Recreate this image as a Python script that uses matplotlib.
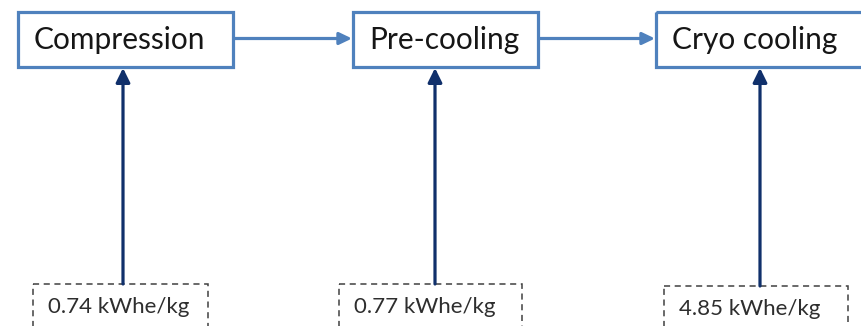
import matplotlib
matplotlib.use('Agg')
import matplotlib.pyplot as plt
from matplotlib.patches import Rectangle

# process stages and their specific energy demand
stages = ['Compression', 'Pre-cooling', 'Cryo cooling']
energy = [0.74, 0.77, 4.85]
unit = 'kWhe/kg'

# layout (pixel-like coordinates, y grows downwards)
box_left = [18, 353, 656]
box_right = [233, 538, 880]
box_top, box_bottom = 12, 67
feed_x = [123, 435, 760]
dash_left = [33, 339, 664]
dash_right = [208, 522, 848]
dash_top = [284, 284, 286]

BLUE = '#4F81BD'
NAVY = '#10306b'

plt.rcParams['font.family'] = ['Lato', 'DejaVu Sans']

fig = plt.figure(figsize=(8.62, 3.26), dpi=100)
ax = fig.add_axes([0, 0, 1, 1])
ax.set_xlim(0, 862)
ax.set_ylim(326, 0)
ax.axis('off')

for i, name in enumerate(stages):
    # process box
    ax.add_patch(Rectangle((box_left[i], box_top), box_right[i] - box_left[i],
                           box_bottom - box_top, fill=False, edgecolor=BLUE,
                           linewidth=2.3, clip_on=True))
    ax.text(box_left[i] + 16, (box_top + box_bottom) / 2 + 1, name, fontsize=21.5,
            color='#161616', ha='left', va='center')

    # energy input box
    ax.add_patch(Rectangle((dash_left[i], dash_top[i]), dash_right[i] - dash_left[i],
                           80, fill=False, edgecolor='#404040', linewidth=1.1,
                           linestyle=(0, (4, 3))))
    ax.text(dash_left[i] + 15, dash_top[i] + 23, f'{energy[i]:.2f} {unit}',
            fontsize=16, color='#2e2e2e', ha='left', va='center')

    # energy input arrow
    ax.annotate('', xy=(feed_x[i], box_bottom + 1), xytext=(feed_x[i], dash_top[i]),
                arrowprops=dict(arrowstyle='-|>,head_length=0.85,head_width=0.42',
                                color=NAVY, lw=2.3, shrinkA=0, shrinkB=0))

# flow arrows between stages
for i in range(len(stages) - 1):
    y = (box_top + box_bottom) / 2 - 1
    ax.annotate('', xy=(box_left[i + 1] - 1, y), xytext=(box_right[i] + 1, y),
                arrowprops=dict(arrowstyle='-|>,head_length=0.75,head_width=0.36',
                                color=BLUE, lw=2.3, shrinkA=0, shrinkB=0))

fig.savefig('out.png', dpi=100)
